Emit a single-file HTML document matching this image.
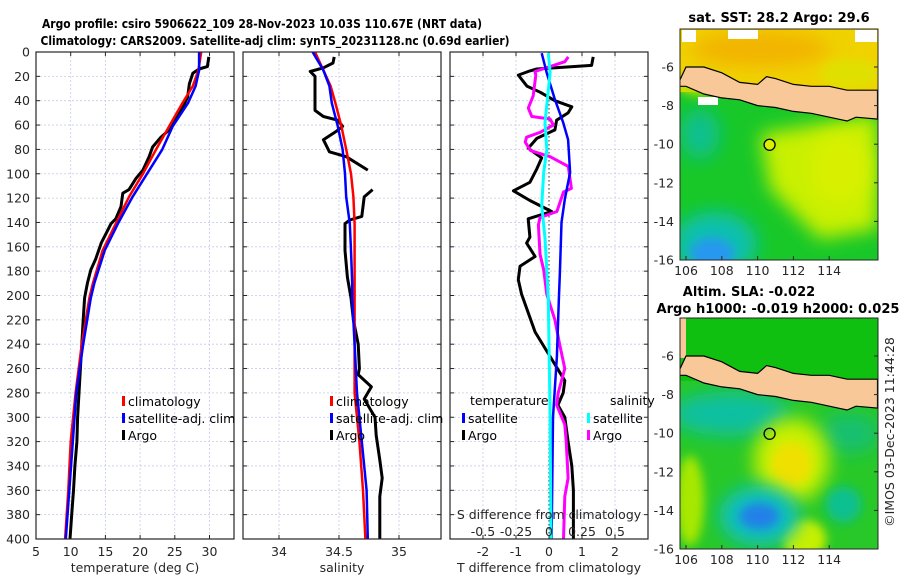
<!DOCTYPE html>
<html><head><meta charset="utf-8"><style>
html,body{margin:0;padding:0;background:#fff;}
svg{display:block;font-family:"DejaVu Sans","Liberation Sans",sans-serif;}
.tk{font-size:12.5px;fill:#262626;}
.ttl{font-size:13px;font-weight:bold;fill:#000;}
.ttl2{font-size:12px;font-weight:bold;fill:#000;}
.lg{font-size:12.5px;fill:#000;}
</style></head><body>
<svg id="fig" width="900" height="580" viewBox="0 0 900 580" xmlns="http://www.w3.org/2000/svg">
<defs>
<clipPath id="c1"><rect x="36" y="52" width="198" height="487"/></clipPath>
<clipPath id="c2"><rect x="243" y="52" width="198" height="487"/></clipPath>
<clipPath id="c3"><rect x="450" y="52" width="198" height="487"/></clipPath>
<clipPath id="cm1"><rect x="680" y="29" width="198" height="231"/></clipPath>
<clipPath id="cm2"><rect x="680" y="318" width="198" height="231"/></clipPath>
<filter id="bl" x="-50%" y="-50%" width="200%" height="200%"><feGaussianBlur stdDeviation="9"/></filter>
<filter id="bl2" x="-50%" y="-50%" width="200%" height="200%"><feGaussianBlur stdDeviation="5"/></filter>
</defs>
<text class="ttl2" x="262" y="28" text-anchor="middle" textLength="440" lengthAdjust="spacingAndGlyphs">Argo profile: csiro 5906622_109 28-Nov-2023 10.03S 110.67E (NRT data)</text>
<text class="ttl2" x="275" y="45" text-anchor="middle" textLength="469" lengthAdjust="spacingAndGlyphs">Climatology: CARS2009. Satellite-adj clim: synTS_20231128.nc (0.69d earlier)</text>
<g id="panels"></g>
<g id="maps"></g>
<text class="tk" transform="translate(894,432) rotate(-90)" text-anchor="middle">©IMOS 03-Dec-2023 11:44:28</text>
</svg>
<script>
// ---- data ----
const depthTicks = [0,20,40,60,80,100,120,140,160,180,200,220,240,260,280,300,320,340,360,380,400];
const tempTicks = [5,10,15,20,25,30];
const salTicks = [34,34.5,35];
const salTickLabels = ["34","34.5","35"];
const tdiffTicks = [-2,-1,0,1,2];
const sdiffTicks = [-0.5,-0.25,0,0.25,0.5];
const sdiffTickLabels = ["-0.5","-0.25","0","0.25","0.5"];

const climDepth = [0,15,28,42,61,80,100,119,141,163,190,202,240,280,320,360,400];
const climT = [28.8,28.4,27.6,26.1,24.2,22.3,20.4,18.4,16.5,14.6,13.2,12.7,11.6,10.7,10.0,9.65,9.2];
const satT = [28.5,28.5,28.0,26.9,24.7,23.2,21.0,18.9,16.8,14.9,13.4,12.9,11.8,10.8,10.3,9.8,9.3];
const climS = [34.30,34.37,34.43,34.47,34.52,34.56,34.60,34.62,34.63,34.63,34.63,34.63,34.63,34.63,34.67,34.70,34.72];
const satS = [34.28,34.37,34.42,34.44,34.49,34.53,34.55,34.56,34.59,34.60,34.61,34.61,34.63,34.65,34.69,34.73,34.74];

const argoTDepth = [4,12,14,17.5,26,37,46,53,64,70,78,86,97,104,113,116,127,137,141,149,157,170,179,190,202,220,240,260,280,300,320,340,360,380,400];
const argoT = [29.9,29.7,28.5,27.6,27.1,26.85,26.1,25.2,24.2,23.0,21.8,21.3,20.4,19.4,18.4,17.5,17.25,16.5,15.8,15.1,14.4,13.6,12.9,12.4,12.0,11.8,11.6,11.4,11.2,11.0,10.9,10.6,10.4,10.15,9.9];
const argoSDepth = [4,9,13,16,20,48,53,56,61,65,72,82,86,97,105,113,119,135,138,141,163,185,202,220,240,260,265,275,285,300,315,335,350,365,385,400];
const argoS = [34.46,34.45,34.37,34.26,34.30,34.30,34.37,34.49,34.53,34.48,34.37,34.42,34.56,34.74,null,34.78,34.71,34.69,34.59,34.55,34.55,34.57,34.60,34.62,34.66,34.67,34.66,34.77,34.71,34.80,34.81,34.84,34.86,34.84,34.84,34.84];

const satTDiffDepth = [1,17,39,58,72,99,121,140,181,202,250,300,400];
const satTDiff = [-0.22,-0.07,0.18,0.43,0.58,0.64,0.48,0.38,0.33,0.30,0.24,0.12,0.08];
const satSDiffDepth = [1,17,58,80,99,126,153,202,300,400];
const satSDiff = [-0.005,0.008,-0.03,-0.017,-0.04,-0.055,-0.03,-0.005,0.008,0.015];
const argoTDiffDepth = [4,11,14,15.5,19,28,33,40,45,50,56,64,71,79,87,96,107,114,122,131,137,152,157,168,176,187,199,230,250,270,280,290,300,320,340,360,400];
const argoTDiff = [1.34,1.29,-0.37,-0.58,-0.93,-0.67,-0.27,0.18,0.69,0.58,0.23,0.18,-0.37,-0.63,-0.22,-0.37,-0.58,-1.08,-0.58,0.08,-0.63,-0.58,-0.68,-0.42,-0.88,-0.93,-0.83,-0.42,0.03,0.48,0.43,0.27,0.48,0.58,0.69,0.74,0.74];
const argoSDiffDepth = [4,8,12,16,19,36,46,53,55,60,66,70,74,81,86,94,112,115,131,136,142,166,179,199,220,240,260,280,290,306,320,350,365,400];
const argoSDiff = [0.146,0.12,0.008,-0.106,-0.1,-0.12,-0.157,-0.13,0.008,0.033,-0.068,-0.17,-0.18,-0.14,0.008,0.146,0.17,0.11,0.06,-0.068,-0.08,-0.068,-0.04,-0.017,0.045,0.08,0.12,0.07,0.058,0.12,0.13,0.145,0.12,0.11];

const mapLatTicks = [-6,-8,-10,-12,-14,-16];
const mapLonTicks = [106,108,110,112,114];
const argoLon = 110.67, argoLat = -10.03;
const javaLon = [105.6,106,107,108,109,110,110.5,111,112,113,114,115,116.7,116.7,115.5,115,114.5,113,112,111,110,109,108,107,106,105.6];
const javaLat = [-6.8,-6.0,-6.0,-6.3,-6.8,-6.9,-6.5,-6.6,-6.9,-7.0,-7.0,-7.2,-7.2,-8.7,-8.6,-8.8,-8.7,-8.4,-8.3,-8.1,-8.0,-7.7,-7.6,-7.4,-7.0,-7.0];

// ---- helpers ----
const NS = "http://www.w3.org/2000/svg";
function mk(tag, attrs, parent){const e=document.createElementNS(NS,tag);for(const k in attrs)e.setAttribute(k,attrs[k]);parent.appendChild(e);return e;}
const yD = d => 52 + d*487/400;
const xT = t => 36 + (t-5)*6.94;
const xS = s => 279 + (s-34)*120;
const xTD = v => 549 + v*33;
const xSD = v => 549 + v*132;

const P = document.getElementById('panels');

function pathFrom(xs, ds, fx){
  let d="", pen=false;
  for(let i=0;i<xs.length;i++){
    if(xs[i]===null){pen=false;continue;}
    d += (pen?"L":"M") + fx(xs[i]).toFixed(1) + "," + yD(ds[i]).toFixed(1);
    pen=true;
  }
  return d;
}

function panel(x0, clip, xticks, fx, name, showY){
  const g = mk('g',{},P);
  
  
  depthTicks.forEach(d=>{
    const l = mk('line',{x1:x0,x2:x0+198,y1:yD(d),y2:yD(d),stroke:'#c5cbe6','stroke-width':0.8,'stroke-dasharray':'2,2'},g);
    
    
    const t1 = mk('line',{x1:x0,x2:x0+4,y1:yD(d),y2:yD(d),stroke:'#262626','stroke-width':1},g);
    
    
    const t2 = mk('line',{x1:x0+194,x2:x0+198,y1:yD(d),y2:yD(d),stroke:'#262626','stroke-width':1},g);
    
    
    if(showY){
      const tx = mk('text',{x:x0-6,y:yD(d)+4.5,'text-anchor':'end',class:'tk'},g);
      tx.textContent = d;
      
      
    }
  });
  xticks.forEach(v=>{
    const l = mk('line',{x1:fx(v),x2:fx(v),y1:52,y2:539,stroke:'#c5cbe6','stroke-width':0.8,'stroke-dasharray':'2,2'},g);
    
    
    const tb = mk('line',{x1:fx(v),x2:fx(v),y1:535,y2:539,stroke:'#262626'},g);
    
    
    const tt = mk('line',{x1:fx(v),x2:fx(v),y1:52,y2:56,stroke:'#262626'},g);
    
    
  });
  return g;
}

function series(g, xs, ds, fx, color, w, clip, name){
  const p = mk('path',{d:pathFrom(xs,ds,fx),fill:'none',stroke:color,'stroke-width':w,'stroke-linejoin':'round','clip-path':'url(#'+clip+')'},g);
  
  
}
function box(g,x0){
  const r = mk('rect',{x:x0,y:52,width:198,height:487,fill:'none',stroke:'#262626','stroke-width':1.2},g);
  
  
}
function txt(g,x,y,s,cls,anchor,name){
  const t = mk('text',{x:x,y:y,class:cls,'text-anchor':anchor||'start'},g);
  t.textContent = s;
  
  
  return t;
}
function legendEntry(g,x,y,color,label,name){
  const r = mk('rect',{x:x,y:y-9,width:3,height:10,fill:color},g);
  
  
  txt(g,x+6,y+1,label,'lg','start',name);
}

const g1 = panel(36,'c1',tempTicks,xT,'temperature-panel',true);
series(g1,argoT,argoTDepth,xT,'#000',3,'c1','argo-temperature-line');
series(g1,climT,climDepth,xT,'#ff0000',2.5,'c1','climatology-temperature-line');
series(g1,satT,climDepth,xT,'#0000ff',2.5,'c1','satellite-temperature-line');
box(g1,36);
tempTicks.forEach(v=>txt(g1,xT(v),556,String(v),'tk','middle','x-tick-label'));
txt(g1,135,572,'temperature (deg C)','tk','middle','x-axis-title-temperature');
legendEntry(g1,122,405,'#ff0000','climatology','legend-climatology');
legendEntry(g1,122,422,'#0000ff','satellite-adj. clim','legend-satellite');
legendEntry(g1,122,439,'#000','Argo','legend-argo');

const g2 = panel(243,'c2',salTicks,xS,'salinity-panel',false);
series(g2,argoS,argoSDepth,xS,'#000',3,'c2','argo-salinity-line');
series(g2,climS,climDepth,xS,'#ff0000',2.5,'c2','climatology-salinity-line');
series(g2,satS,climDepth,xS,'#0000ff',2.5,'c2','satellite-salinity-line');
box(g2,243);
salTicks.forEach((v,i)=>txt(g2,xS(v),556,salTickLabels[i],'tk','middle','x-tick-label'));
txt(g2,342,572,'salinity','tk','middle','x-axis-title-salinity');
legendEntry(g2,330,405,'#ff0000','climatology','legend-climatology');
legendEntry(g2,330,422,'#0000ff','satellite-adj. clim','legend-satellite');
legendEntry(g2,330,439,'#000','Argo','legend-argo');

const g3 = panel(450,'c3',tdiffTicks,xTD,'difference-panel',false);
const zl = mk('line',{x1:xTD(0),x2:xTD(0),y1:52,y2:539,stroke:'#333','stroke-width':1,'stroke-dasharray':'1.5,2.5'},g3);


series(g3,argoTDiff,argoTDiffDepth,xTD,'#000',3,'c3','argo-t-diff-line');
series(g3,argoSDiff,argoSDiffDepth,xSD,'#ff00ff',3,'c3','argo-s-diff-line');
series(g3,satTDiff,satTDiffDepth,xTD,'#0000ff',2.5,'c3','satellite-t-diff-line');
series(g3,satSDiff,satSDiffDepth,xSD,'#00ffff',3,'c3','satellite-s-diff-line');
box(g3,450);
tdiffTicks.forEach(v=>txt(g3,xTD(v),556,String(v),'tk','middle','x-tick-label'));
txt(g3,549,572,'T difference from climatology','tk','middle','x-axis-title-t-diff');
txt(g3,549,519,'S difference from climatology','tk','middle','s-diff-axis-title');
sdiffTicks.forEach((v,i)=>txt(g3,xSD(v),536,sdiffTickLabels[i],'tk','middle','s-diff-tick-label'));
txt(g3,470,405,'temperature','lg','start','legend-temperature-heading');
legendEntry(g3,462,422,'#0000ff','satellite','legend-t-satellite');
legendEntry(g3,462,439,'#000','Argo','legend-t-argo');
txt(g3,610,405,'salinity','lg','start','legend-salinity-heading');
legendEntry(g3,587,422,'#00ffff','satellite','legend-s-satellite');
legendEntry(g3,587,439,'#ff00ff','Argo','legend-s-argo');

// ---- maps ----
const M = document.getElementById('maps');
const xL = lon => 686 + (lon-106)*17.9;
function mapBlock(top, clip, name, kind){
  const g = mk('g',{},M);
  
  
  const yL = lat => top + 231 - (lat+16)*19.3;
  const inner = mk('g',{'clip-path':'url(#'+clip+')'},g);
  if(kind==='sst'){
    mk('rect',{x:680,y:top,width:198,height:231,fill:'#18c828'},inner);
    mk('rect',{x:680,y:top,width:198,height:yL(-7.3)-top,fill:'#f0d200'},inner);
    mk('ellipse',{cx:760,cy:top+20,rx:70,ry:18,fill:'#f2b400',filter:'url(#bl)'},inner);
    mk('ellipse',{cx:850,cy:top+45,rx:30,ry:15,fill:'#e0e000',filter:'url(#bl2)'},inner);
    mk('ellipse',{cx:700,cy:top+55,rx:22,ry:12,fill:'#b0e000',filter:'url(#bl2)'},inner);
    mk('path',{d:'M760,'+(top+105)+' L878,'+(top+85)+' L878,'+(top+200)+' L820,'+(top+210)+' L770,'+(top+160)+' Z',fill:'#c8f000',filter:'url(#bl)'},inner);
    mk('ellipse',{cx:840,cy:top+140,rx:30,ry:35,fill:'#d8f000',filter:'url(#bl)'},inner);
    mk('ellipse',{cx:715,cy:top+215,rx:42,ry:32,fill:'#10c0b0',filter:'url(#bl)'},inner);
    mk('ellipse',{cx:712,cy:top+225,rx:22,ry:16,fill:'#2898f0',filter:'url(#bl2)'},inner);
    mk('ellipse',{cx:700,cy:top+105,rx:20,ry:25,fill:'#10c090',filter:'url(#bl)'},inner);
    [[682,top+1,14,12],[728,top+1,30,9],[855,top+1,22,12],[698,top+68,20,8]].forEach(r=>mk('rect',{x:r[0],y:r[1],width:r[2],height:r[3],fill:'#fff'},inner));
  } else {
    mk('rect',{x:680,y:top,width:198,height:231,fill:'#28c828'},inner);
    mk('rect',{x:680,y:top,width:198,height:yL(-7.3)-top,fill:'#10c010'},inner);
    mk('ellipse',{cx:730,cy:yL(-9),rx:60,ry:22,fill:'#10c0a0',filter:'url(#bl)'},inner);
    mk('ellipse',{cx:850,cy:yL(-10),rx:30,ry:20,fill:'#18c070',filter:'url(#bl)'},inner);
    mk('ellipse',{cx:xL(111.9),cy:yL(-11.4),rx:38,ry:42,fill:'#c8f000',filter:'url(#bl)'},inner);
    mk('ellipse',{cx:xL(111.9),cy:yL(-11.6),rx:20,ry:22,fill:'#f0e000',filter:'url(#bl2)'},inner);
    mk('ellipse',{cx:xL(112.6),cy:yL(-15.5),rx:22,ry:20,fill:'#c8f000',filter:'url(#bl2)'},inner);
    mk('ellipse',{cx:690,cy:yL(-13.5),rx:14,ry:45,fill:'#a8e800',filter:'url(#bl2)'},inner);
    mk('ellipse',{cx:xL(110.1),cy:yL(-14.3),rx:40,ry:30,fill:'#10c0c0',filter:'url(#bl)'},inner);
    mk('ellipse',{cx:xL(110.1),cy:yL(-14.3),rx:20,ry:13,fill:'#2080e8',filter:'url(#bl2)'},inner);
    mk('ellipse',{cx:xL(114.8),cy:yL(-13.7),rx:18,ry:18,fill:'#10c090',filter:'url(#bl2)'},inner);
    mk('rect',{x:680,y:top,width:6,height:yL(-6.1)-top,fill:'#f8c898'},inner);
  }
  let d='';
  javaLon.forEach((lon,i)=>{d+=(i?'L':'M')+xL(lon).toFixed(1)+','+yL(javaLat[i]).toFixed(1);});
  const land = mk('path',{d:d+'Z',fill:'#f8c898',stroke:'#000','stroke-width':1.2},inner);
  
  
  const c = mk('circle',{cx:xL(argoLon),cy:yL(argoLat),r:5.5,fill:kind==='sst'?'#d8f000':'none',stroke:'#000','stroke-width':1.3},g);
  
  
  const fr = mk('rect',{x:680,y:top,width:198,height:231,fill:'none',stroke:'#262626','stroke-width':1},g);
  
  
  mapLatTicks.forEach(lat=>{
    txt(g,674,yL(lat)+4.5,String(lat),'tk','end','map-lat-label');
    mk('line',{x1:874,x2:878,y1:yL(lat),y2:yL(lat),stroke:'#262626'},g);
  });
  mapLonTicks.forEach(lon=>{
    txt(g,xL(lon),top+246,String(lon),'tk','middle','map-lon-label');
    mk('line',{x1:xL(lon),x2:xL(lon),y1:top+227,y2:top+231,stroke:'#262626'},g);
  });
  return g;
}
const gm1 = mapBlock(29,'cm1','sst-map','sst');
txt(gm1,779,22,'sat. SST: 28.2 Argo: 29.6','ttl','middle','sst-map-title');
const gm2 = mapBlock(318,'cm2','sla-map','sla');
txt(gm2,749,296,'Altim. SLA: -0.022','ttl','middle','sla-map-title-1');
const t2 = txt(gm2,778,313,'Argo h1000: -0.019 h2000: 0.025','ttl','middle','sla-map-title-2');
t2.setAttribute('textLength','243');
t2.setAttribute('lengthAdjust','spacingAndGlyphs');
</script>
</body></html>
